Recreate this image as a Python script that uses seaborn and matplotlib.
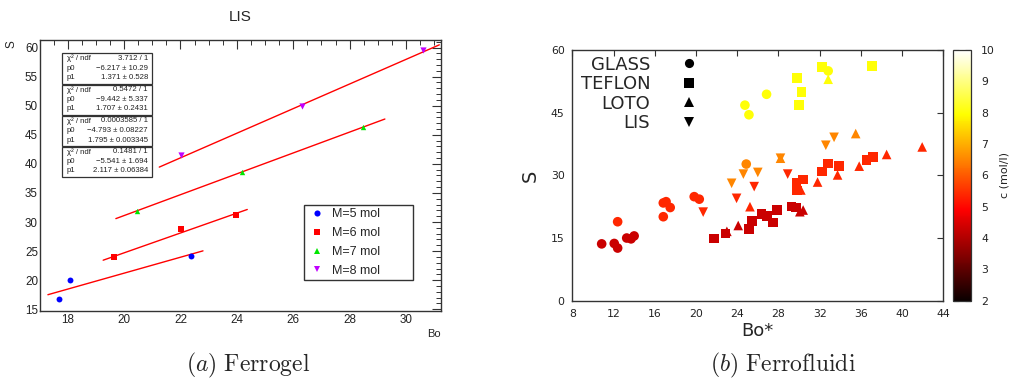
import numpy as np
import pandas as pd
import matplotlib
matplotlib.use("Agg")
import matplotlib.pyplot as plt
import seaborn as sns
from matplotlib.lines import Line2D
from matplotlib.patches import Rectangle
from matplotlib.cm import ScalarMappable
from matplotlib.colors import Normalize
from matplotlib.ticker import MultipleLocator

# ---------------- (a) Ferrogel : LIS ----------------
m5_bo = [17.68, 18.08, 22.36]
m5_s = [16.7, 20.0, 24.2]
m6_bo = [19.65, 22.02, 23.96]
m6_s = [23.9, 28.75, 31.2]
m7_bo = [20.47, 24.19, 28.48]
m7_s = [31.9, 38.6, 46.3]
m8_bo = [22.02, 26.32, 30.59]
m8_s = [41.5, 50.0, 59.6]
series_labels = ["M=5 mol", "M=6 mol", "M=7 mol", "M=8 mol"]

fit_chi2 = ["3.712 / 1", "0.5472 / 1", "0.0003585 / 1", "0.1481 / 1"]
fit_p0 = [-6.217, -9.442, -4.793, -5.541]
fit_p0_err = ["10.29", "5.337", "0.08227", "1.694"]
fit_p1 = [1.371, 1.707, 1.795, 2.117]
fit_p1_err = ["0.528", "0.2431", "0.003345", "0.06384"]
fit_lo = [17.3, 19.26, 19.71, 21.25]
fit_hi = [22.8, 24.37, 29.25, 31.18]

# ---------------- (b) Ferrofluidi ----------------
glass_bo = [10.85, 12.07, 12.4, 13.28, 13.7, 14.0,
            12.4, 16.83, 16.83, 17.1, 17.5, 19.83, 20.32,
            24.88,
            24.75, 25.14, 26.85, 32.83]
glass_s = [13.6, 13.7, 12.6, 15.0, 14.8, 15.5,
           18.9, 20.1, 23.4, 23.7, 22.3, 24.9, 24.3,
           32.7,
           46.8, 44.5, 49.4, 55.0]
glass_c = [4.3] * 6 + [5.4] * 7 + [6.5] + [8.0] * 4

teflon_bo = [21.74, 22.88, 25.14, 25.46, 26.37, 26.9, 27.5, 27.88, 29.28, 29.7,
             29.77, 30.4, 29.83, 32.2, 32.8, 33.87, 36.55, 37.15,
             32.25, 37.1, 29.82, 30.25, 30.0]
teflon_s = [14.9, 16.1, 17.1, 19.1, 20.7, 20.3, 18.7, 21.7, 22.5, 22.3,
            28.1, 29.0, 26.4, 30.9, 32.8, 32.2, 33.6, 34.4,
            56.0, 56.2, 53.3, 50.0, 46.8]
teflon_c = [4.3] * 10 + [5.4] * 8 + [8.0] * 5

loto_bo = [23.0, 24.1, 30.08, 30.4,
           25.24, 30.18, 31.8, 33.74, 35.84, 38.5, 41.95,
           28.2, 35.5,
           32.83]
loto_s = [16.6, 18.0, 21.3, 21.7,
          22.5, 26.5, 28.4, 30.1, 32.2, 35.0, 36.8,
          34.1, 40.0,
          53.0]
loto_c = [4.3] * 4 + [5.4] * 7 + [6.5] * 2 + [8.0]

lis_bo = [20.7, 23.94, 25.65, 28.9,
          23.46, 24.6, 26.0, 28.2, 32.6, 33.4]
lis_s = [21.2, 24.5, 27.3, 30.3,
         28.1, 30.3, 30.7, 34.1, 37.2, 39.1]
lis_c = [5.4] * 4 + [6.5] * 6

surfaces = ["GLASS", "TEFLON", "LOTO", "LIS"]

# ------------------------------------------------------------
sns.set_style("white")
plt.rcParams["font.family"] = ["DejaVu Sans"]
plt.rcParams["mathtext.fontset"] = "cm"

W, H = 1011, 388
fig = plt.figure(figsize=(W / 100, H / 100), dpi=100)

def fx(px):
    return px / W

def fy(py):
    return 1 - py / H

# ---------- left panel ----------
axL = fig.add_axes([fx(40), fy(311), fx(441) - fx(40), fy(40) - fy(311)])
rootfont = "Liberation Sans"
colors_L = ["#0000ff", "#ff0000", "#00e600", "#c000ff"]
markers_L = ["o", "s", "^", "v"]
sizes_L = [18, 22, 15, 20]
bos = [m5_bo, m6_bo, m7_bo, m8_bo]
ss = [m5_s, m6_s, m7_s, m8_s]

for i in range(4):
    xs = np.array([fit_lo[i], fit_hi[i]])
    ys = fit_p0[i] + fit_p1[i] * xs
    sns.lineplot(x=xs, y=ys, ax=axL, color="#ff0000", lw=1.0, zorder=2)
for i in range(4):
    sns.scatterplot(x=bos[i], y=ss[i], ax=axL, marker=markers_L[i], color=colors_L[i],
                    s=sizes_L[i], linewidth=0, zorder=3)

axL.set_xlim(17.02, 31.24)
axL.set_ylim(14.7, 61.3)
axL.xaxis.set_major_locator(MultipleLocator(2))
axL.xaxis.set_minor_locator(MultipleLocator(0.5))
axL.yaxis.set_major_locator(MultipleLocator(5))
axL.yaxis.set_minor_locator(MultipleLocator(1))
axL.tick_params(which="both", direction="in", top=True, right=True, colors="#333333",
                labelcolor="#222222", labelfontfamily=rootfont)
axL.tick_params(which="major", length=6.5, width=0.8, labelsize=8.4, pad=2)
axL.tick_params(which="minor", length=3.5, width=0.7)
axL.tick_params(axis="y", which="major", pad=1.5)
for sp in axL.spines.values():
    sp.set_color("#333333")
    sp.set_linewidth(1.0)
axL.set_title("LIS", fontsize=11, family=rootfont, pad=14)
axL.set_xlabel("Bo", loc="right", fontsize=8, family=rootfont, labelpad=2)
axL.set_ylabel("S", loc="top", fontsize=8.5, family=rootfont, labelpad=5)

# statistics boxes
bx0 = (62 - 40) / 401
bx1 = (152 - 40) / 401
box_tops = [53.3, 84.5, 115.5, 146.5]
box_h = 30.5
for i in range(4):
    top = (311 - box_tops[i]) / 271
    bot = (311 - box_tops[i] - box_h) / 271
    axL.add_patch(Rectangle((bx0, bot), bx1 - bx0, top - bot, transform=axL.transAxes,
                            facecolor="white", edgecolor="#333333", lw=0.9, zorder=5))
    rows = [("\u03c7\u00b2 / ndf", fit_chi2[i]),
            ("p0", "\u2212%s \u00b1 %s" % (f"{abs(fit_p0[i]):g}", fit_p0_err[i])),
            ("p1", "%s \u00b1 %s" % (f"{fit_p1[i]:g}", fit_p1_err[i]))]
    for j, (k, v) in enumerate(rows):
        yy = (311 - (box_tops[i] + 5.3 + 9.6 * j)) / 271
        axL.text(bx0 + 0.012, yy, k, transform=axL.transAxes, fontsize=5.6,
                 family=[rootfont, "DejaVu Sans"], va="center", ha="left", zorder=6,
                 color="#222222")
        axL.text(bx1 - 0.01, yy, v, transform=axL.transAxes, fontsize=5.6,
                 family=[rootfont, "DejaVu Sans"], va="center", ha="right", zorder=6,
                 color="#222222")

handles_L = [Line2D([], [], ls="none", marker=markers_L[i], color=colors_L[i],
                    markersize=4.4, markeredgewidth=0) for i in range(4)]
legL = axL.legend(handles_L, series_labels, loc="upper left",
                  bbox_to_anchor=((304 - 40) / 401, (311 - 205) / 271, (413 - 304) / 401, 0.0),
                  mode="expand", prop={"family": rootfont, "size": 9},
                  frameon=True, fancybox=False, edgecolor="#333333", framealpha=1,
                  borderpad=0.25, labelspacing=0.55, handlelength=1.6, handletextpad=0.35,
                  borderaxespad=0)
legL.get_frame().set_linewidth(1.0)
legL.set_zorder(7)

# ---------- right panel ----------
axR = fig.add_axes([fx(572.3), fy(300.7), fx(943.3) - fx(572.3), fy(50) - fy(300.7)])
df = pd.concat([
    pd.DataFrame({"Bo": glass_bo, "S": glass_s, "c": glass_c, "surface": "GLASS"}),
    pd.DataFrame({"Bo": teflon_bo, "S": teflon_s, "c": teflon_c, "surface": "TEFLON"}),
    pd.DataFrame({"Bo": loto_bo, "S": loto_s, "c": loto_c, "surface": "LOTO"}),
    pd.DataFrame({"Bo": lis_bo, "S": lis_s, "c": lis_c, "surface": "LIS"}),
], ignore_index=True)
markers_R = {"GLASS": "o", "TEFLON": "s", "LOTO": "^", "LIS": "v"}
sns.scatterplot(data=df, x="Bo", y="S", hue="c", style="surface", markers=markers_R,
                palette="hot", hue_norm=(2, 10), s=48, linewidth=0, legend=False, ax=axR,
                zorder=3)
axR.set_xlim(8, 44)
axR.set_ylim(0, 60)
axR.set_xticks(np.arange(8, 45, 4))
axR.set_yticks([0, 15, 30, 45, 60])
axR.tick_params(direction="in", top=True, right=True, length=4, width=0.8,
                colors="#333333", labelcolor="#222222", labelsize=7.8)
axR.tick_params(axis="x", pad=6)
axR.tick_params(axis="y", pad=5.5)
for sp in axR.spines.values():
    sp.set_color("#333333")
    sp.set_linewidth(1.0)
axR.set_xlabel("Bo*", fontsize=13, labelpad=2)
axR.set_ylabel("S", fontsize=14, labelpad=8)

handles_R = [Line2D([], [], ls="none", marker=markers_R[k], color="black",
                    markersize=6.6, markeredgewidth=0) for k in surfaces]
legR = axR.legend(handles_R, surfaces, loc="upper right", bbox_to_anchor=(0.3485, 0.992),
                  markerfirst=False, frameon=False, fontsize=13, borderpad=0.2,
                  labelspacing=0.08, handlelength=1.0, handletextpad=1.65, borderaxespad=0)

cax = fig.add_axes([fx(952.7), fy(300.7), fx(971.3) - fx(952.7), fy(50) - fy(300.7)])
cb = fig.colorbar(ScalarMappable(norm=Normalize(2, 10), cmap="hot"), cax=cax,
                  ticks=np.arange(2, 11, 1))
cb.outline.set_edgecolor("#333333")
cb.outline.set_linewidth(0.9)
cax.tick_params(direction="in", left=True, right=True, length=4, width=0.8,
                colors="#333333", labelcolor="#222222", labelsize=7.8, pad=7)
cb.set_label("c (mol/l)", fontsize=8, labelpad=3, color="#222222")

# captions
fig.text(fx(248), fy(365), r"$\mathit{(a)}\ \mathrm{Ferrogel}$", ha="center", va="center",
         fontsize=17)
fig.text(fx(783), fy(365), r"$\mathit{(b)}\ \mathrm{Ferrofluidi}$", ha="center", va="center",
         fontsize=17)

fig.savefig("out.png", dpi=100)
